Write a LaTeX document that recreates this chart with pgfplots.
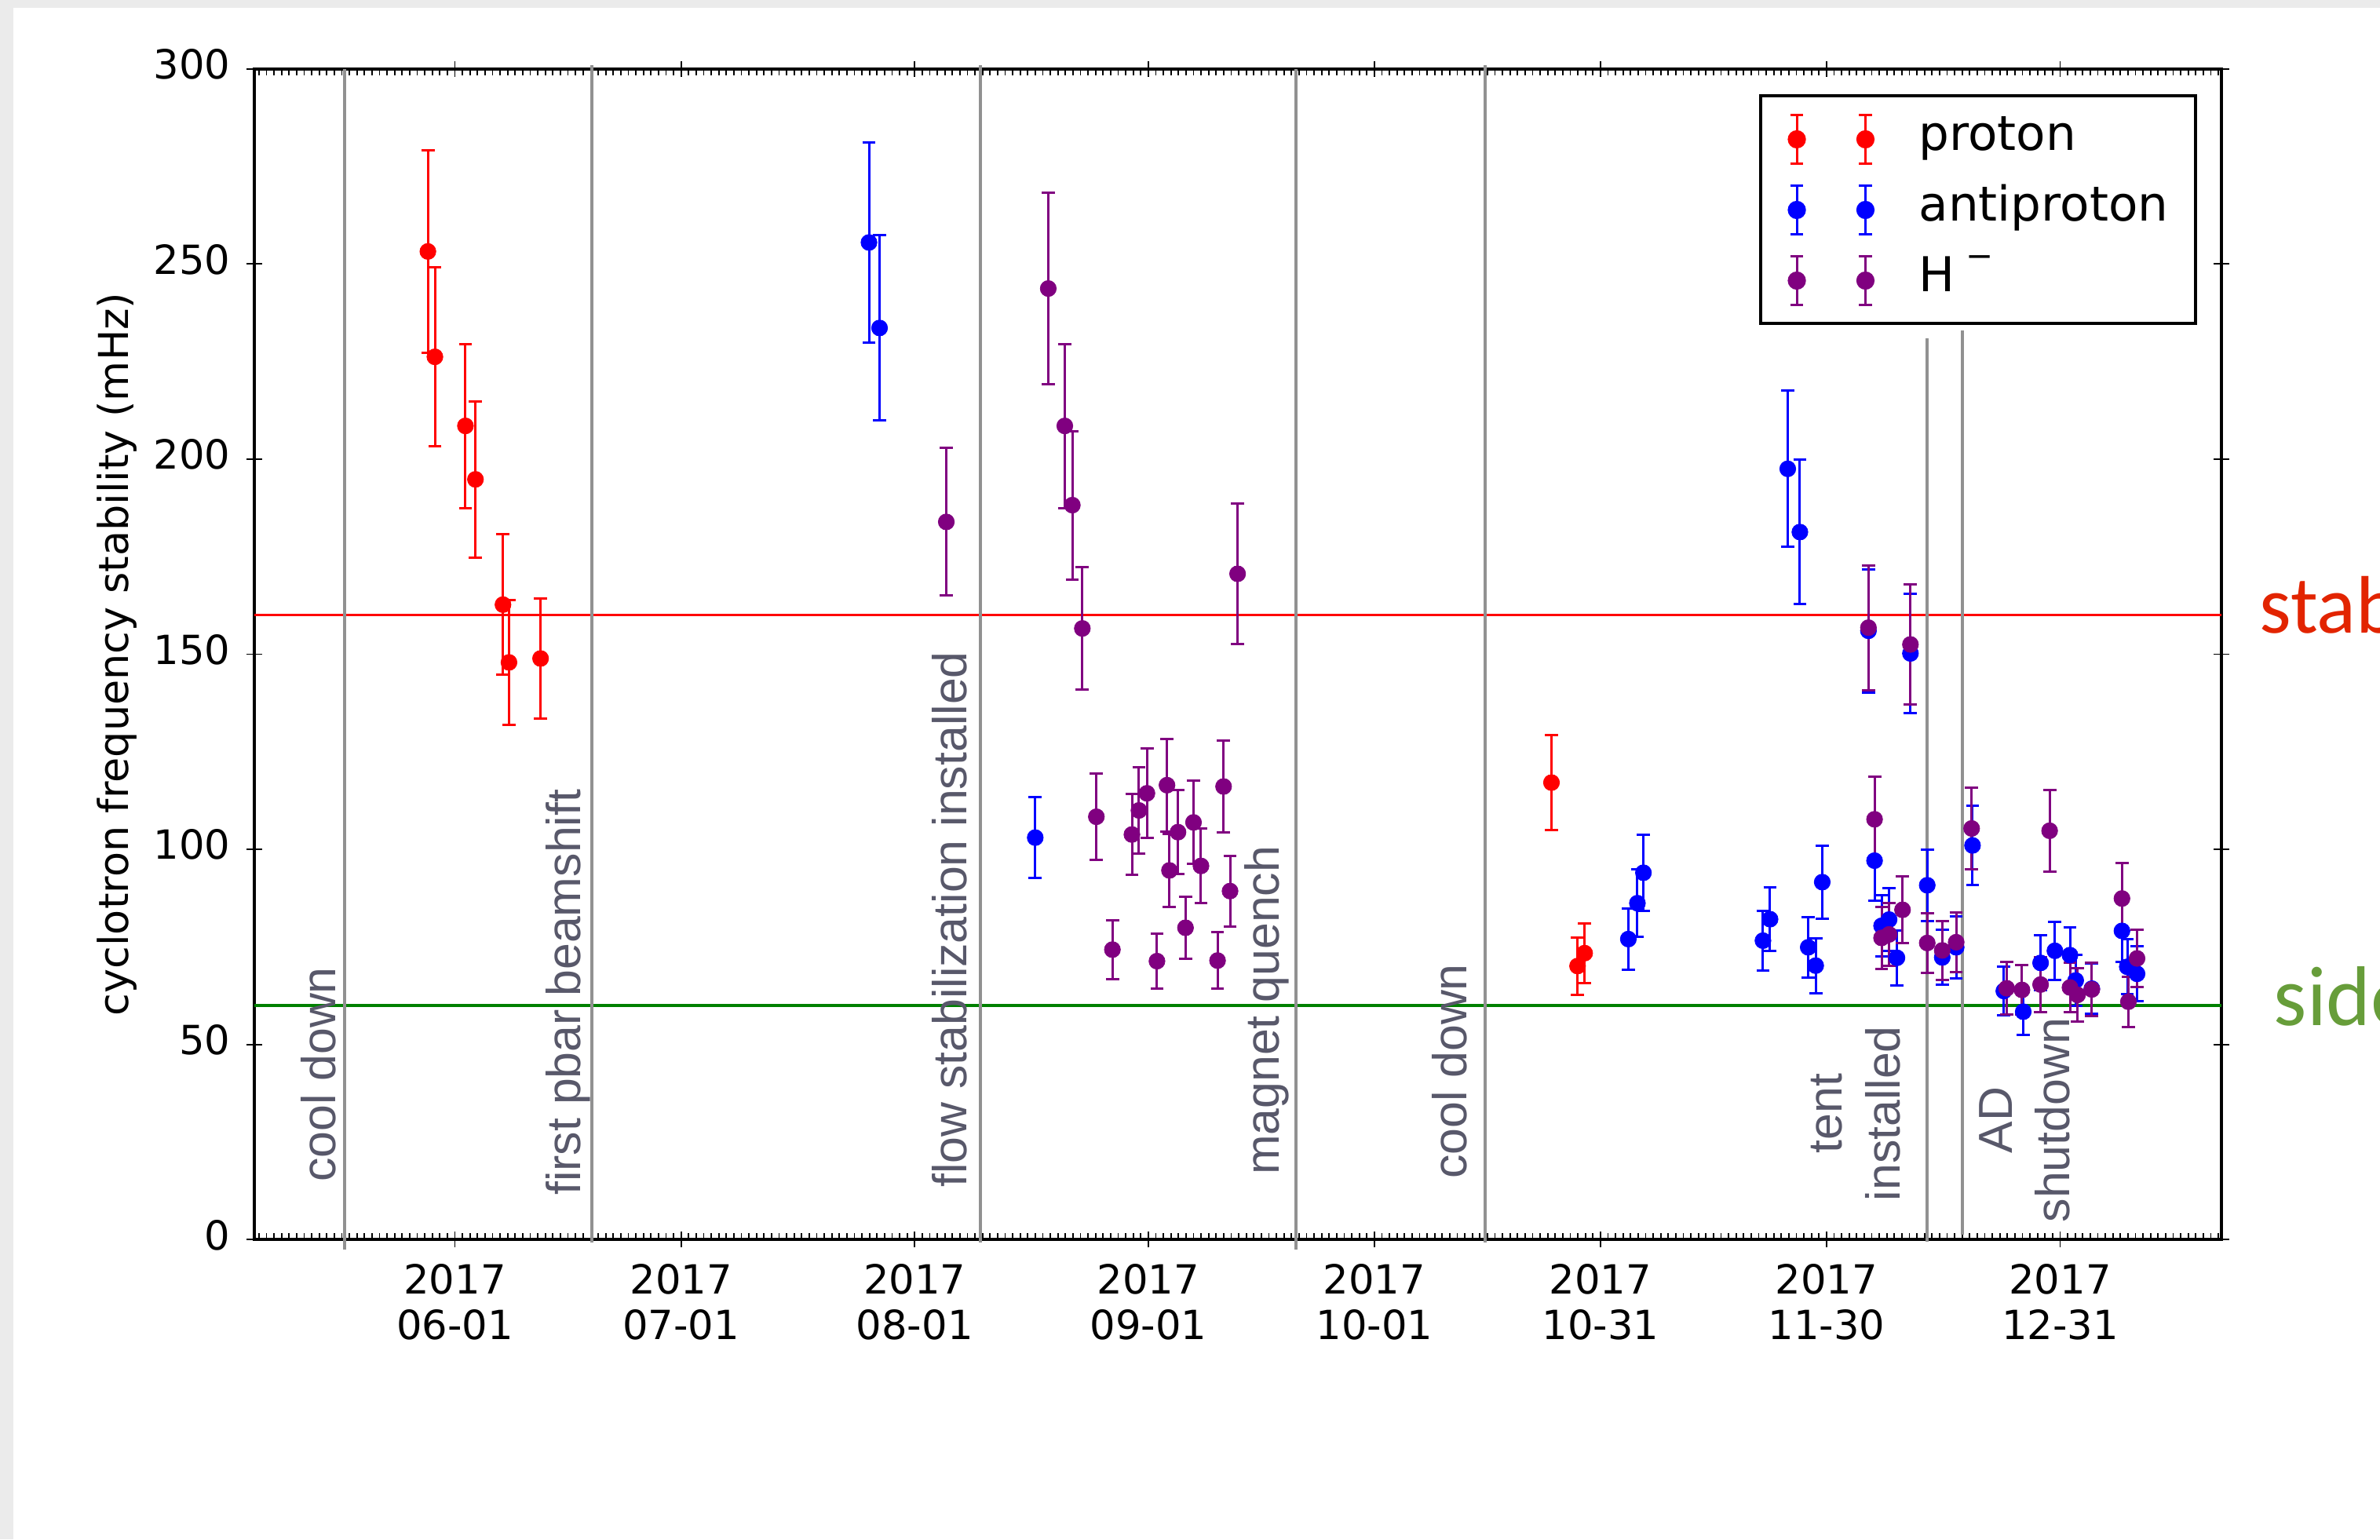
\documentclass[border=0pt]{standalone}
\usepackage{pgfplots}
\pgfplotsset{compat=1.18}
\usepackage{pgfplotstable}
\usepackage{fontspec}
\setmainfont{DejaVu Sans}
\newfontfamily\annfont{Liberation Sans}
\newfontfamily\calfont{Carlito}
\definecolor{pred}{RGB}{255,0,0}
\definecolor{pblue}{RGB}{0,0,255}
\definecolor{ppurple}{RGB}{128,0,128}
\definecolor{pgreen}{RGB}{0,128,0}
\definecolor{vgray}{RGB}{145,145,145}
\definecolor{anncol}{RGB}{88,88,106}
\definecolor{bggray}{RGB}{235,235,235}
\definecolor{stabred}{RGB}{226,36,0}
\definecolor{sidegreen}{RGB}{103,157,58}

\pgfplotstableread{
x y e
-3.59 253.2 26
-2.66 226.2 23
1.39 208.5 21
2.72 194.8 20
6.37 162.7 18
7.17 147.9 16
11.36 148.9 15.3
145.5 117.1 12.2
148.96 70.1 7.3
149.9 73.4 7.6
}\protondata

\pgfplotstableread{
x y e
54.94 255.5 25.6
56.34 233.6 23.7
77.0 103.0 10.3
155.7 77.0 7.8
156.9 86.2 8.6
157.7 94.0 9.7
173.56 76.6 7.6
174.5 82.1 8.2
176.85 197.5 20
178.46 181.3 18.5
179.57 74.9 7.8
180.56 70.2 7
181.43 91.6 9.3
187.56 156.0 15.8
188.37 97.1 10.2
189.3 80.4 7.8
190.3 82.0 8
191.34 72.2 7
193.13 150.2 15.3
195.36 90.8 9.2
197.35 72.3 7
199.2 74.9 8
201.37 101.0 10.2
205.52 63.7 6.2
208.1 58.4 6
210.4 70.9 7
212.3 74.0 7.4
214.3 72.9 7.2
215.06 66.4 6.5
217.2 64.3 6.5
221.2 79.1 8
221.9 69.9 7
223.2 68.1 7
}\pbardata

\pgfplotstableread{
x y e
65.2 183.9 18.9
78.73 243.7 24.6
80.92 208.5 21
81.92 188.2 19
83.25 156.6 15.7
85.11 108.35 11
87.24 74.3 7.5
89.83 103.8 10.4
90.76 109.97 11
91.82 114.36 11.5
93.15 71.35 7.1
94.48 116.44 11.8
94.81 94.6 9.4
95.94 104.4 10.7
96.94 79.9 8
98.0 106.9 10.7
98.99 95.75 9.6
101.19 71.5 7.2
101.99 116.1 11.7
102.85 89.3 9
103.85 170.6 18
187.56 156.8 16
188.37 107.7 11
189.3 77.3 8
190.3 78.2 8
192.08 84.5 8.6
193.13 152.5 15.4
195.36 76.0 7.7
197.35 74.1 7.6
199.2 76.2 7.7
201.25 105.35 10.5
205.9 64.4 6.8
207.93 63.97 6.3
210.4 65.35 7
211.6 104.76 10.5
214.3 64.6 6.4
215.3 62.7 6.8
217.2 64.1 6.8
221.2 87.4 9
222.05 60.95 6.4
223.2 72.05 7.4
}\hdata

\pgfplotsset{
  ebimg/.style={legend image code/.code={%
    \path[draw=none,fill=none] (-2.7pt,-11.25pt) rectangle (38.9pt,11.25pt);
    \draw[#1,line width=0.75pt] (0pt,-7.8pt) -- (0pt,7.8pt) (-2.1pt,-7.8pt) -- (2.1pt,-7.8pt) (-2.1pt,7.8pt) -- (2.1pt,7.8pt);
    \fill[#1] (0pt,0pt) circle (2.4pt);
    \draw[#1,line width=0.75pt] (21.85pt,-7.8pt) -- (21.85pt,7.8pt) (19.75pt,-7.8pt) -- (23.95pt,-7.8pt) (19.75pt,7.8pt) -- (23.95pt,7.8pt);
    \fill[#1] (21.85pt,0pt) circle (2.4pt);
  }},
  datplot/.style={only marks, mark=*, color=#1, mark size=2.55pt,
    mark options={fill=#1, draw=#1, line width=0.2pt}, ebimg=#1,
    error bars/.cd, y dir=both, y explicit, error mark=|,
    error bar style={line width=0.75pt, #1},
    error mark options={line width=0.75pt, #1, mark size=2.1pt}},
}
\tikzset{annot/.style={rotate=90, inner sep=0pt, text=anncol, font=\annfont\fontsize{15.2}{18.4}\selectfont}}

\begin{document}
\begin{tikzpicture}
\clip (0,0) rectangle (758pt,490.25pt);
\fill[bggray] (0,0) rectangle (758pt,490.25pt);
\fill[white] (4.2pt,0) rectangle (758pt,487.83pt);
\begin{axis}[
  at={(81.05pt,95.43pt)}, anchor=south west,
  scale only axis, width=626.45pt, height=372.9pt,
  xmin=-26.6, xmax=234.4, ymin=0, ymax=300,
  clip=false,
  axis line style={line width=1pt},
  xtick pos=both, ytick pos=both,
  xticklabel pos=lower, yticklabel pos=left,
  tick align=inside,
  xtick={-26,...,234}, xticklabels={},
  ytick=\empty,
  major tick length=2pt,
  tick style={line width=0.45pt, black},
  extra x ticks={0,30,61,92,122,152,182,213},
  extra x tick labels={{2017\\06-01},{2017\\07-01},{2017\\08-01},{2017\\09-01},{2017\\10-01},{2017\\10-31},{2017\\11-30},{2017\\12-31}},
  extra x tick style={tick align=center, major tick length=5pt},
  extra y ticks={0,50,100,150,200,250,300},
  extra y tick labels={0,50,100,150,200,250,300},
  extra y tick style={tick align=center, major tick length=5pt},
  xticklabel style={font=\fontsize{12.8}{14.5}\selectfont, align=center, inner sep=0pt, anchor=north, yshift=-5pt},
  yticklabel style={font=\fontsize{12.8}{14.5}\selectfont, inner sep=0pt, anchor=east, xshift=-5pt, yshift=1.45pt},
  ylabel={cyclotron frequency stability (mHz)},
  ylabel style={font=\fontsize{13.1}{15}\selectfont, at={(axis description cs:-0.0642,0.5)}, anchor=base, inner sep=0pt},
  legend style={at={(0.9875,0.978)}, anchor=north east, draw=black, line width=1pt,
    inner xsep=8.6pt, inner ysep=2.5pt, row sep=0pt,
    font=\fontsize{15.3}{18}\selectfont,
    nodes={inner sep=0pt, text height=0.8em, text depth=0.12em}},
  legend cell align=left,
]
% reference lines
\addplot[pred, line width=0.85pt, forget plot] coordinates {(-26.6,160) (234.4,160)};
\addplot[pgreen, line width=0.85pt, forget plot] coordinates {(-26.6,60) (234.4,60)};
% event lines
\addplot[vgray, line width=1pt, forget plot] coordinates {(-14.69,-2.5) (-14.69,300)};
\addplot[vgray, line width=1pt, forget plot] coordinates {(18.14,-0.7) (18.14,301)};
\addplot[vgray, line width=1pt, forget plot] coordinates {(69.75,-0.7) (69.75,301)};
\addplot[vgray, line width=1pt, forget plot] coordinates {(111.61,-2.5) (111.61,300)};
\addplot[vgray, line width=1pt, forget plot] coordinates {(136.67,-0.7) (136.67,301)};
\addplot[vgray, line width=1pt, forget plot] coordinates {(195.36,-0.5) (195.36,231)};
\addplot[vgray, line width=1pt, forget plot] coordinates {(200.01,1.3) (200.01,233)};
% annotations
\node[annot, anchor=base west] at (axis cs:-15.83,14.6) {cool down};
\node[annot, anchor=base west] at (axis cs:16.67,11.2) {first pbar beamshift};
\node[annot, anchor=base west] at (axis cs:67.9,13.2) {flow stabilization installed};
\node[annot, anchor=base west] at (axis cs:109.4,16.4) {magnet quench};
\node[annot, anchor=base west] at (axis cs:134.2,15.4) {cool down};
\node[annot, anchor=south, align=center] at (axis cs:191.9,32.3) {tent\\installed};
\node[annot, anchor=south, align=center] at (axis cs:214.4,30.6) {AD\\shutdown};
% data
\addplot[datplot=pred] table[x=x, y=y, y error=e] {\protondata};
\addlegendentry{proton}
\addplot[datplot=pblue] table[x=x, y=y, y error=e] {\pbardata};
\addlegendentry{antiproton}
\addplot[datplot=ppurple] table[x=x, y=y, y error=e] {\hdata};
\addlegendentry{H\hspace{3.5pt}\raisebox{0.5em}{\fontsize{10.5}{10}\selectfont −}}
\end{axis}
\node[anchor=base west, inner sep=0pt, text=stabred, font=\calfont\fontsize{26}{30}\selectfont] at (719.5pt,288.5pt) {stab};
\node[anchor=base west, inner sep=0pt, text=sidegreen, font=\calfont\fontsize{27}{30}\selectfont] at (724pt,163.5pt) {side};
\end{tikzpicture}
\end{document}
